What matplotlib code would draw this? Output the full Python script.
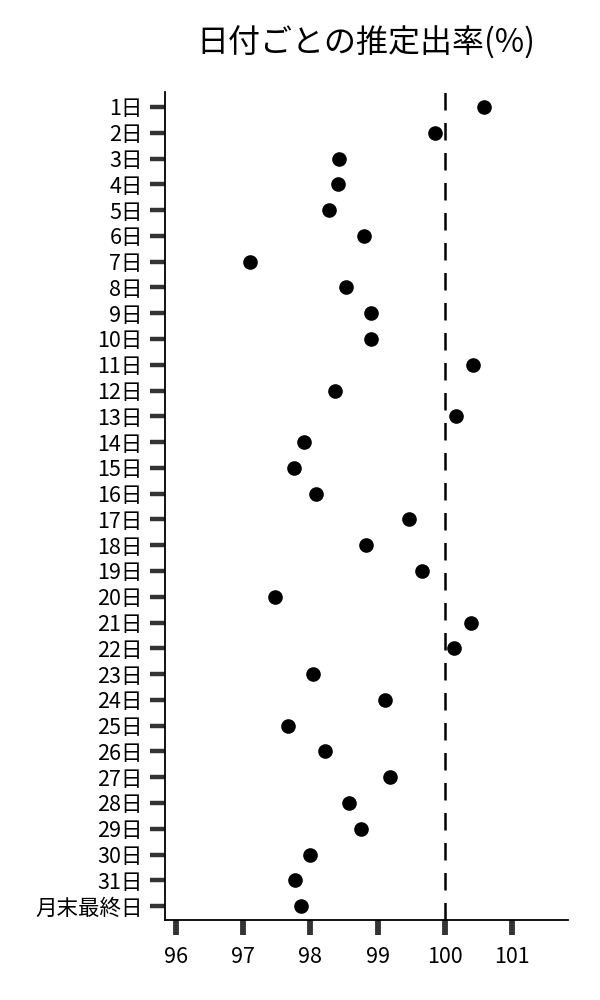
import numpy as np
import matplotlib.pyplot as plt

plt.rcParams['font.family'] = ['Noto Sans CJK JP', 'DejaVu Sans']

# 日付ラベルと推定出率
days = [f'{i}日' for i in range(1, 32)] + ['月末最終日']
rates = [100.58, 99.85, 98.42, 98.41, 98.28, 98.80, 97.10, 98.53, 98.90, 98.90,
         100.41, 98.36, 100.16, 97.90, 97.75, 98.09, 99.47, 98.83, 99.66, 97.47,
         100.38, 100.13, 98.04, 99.11, 97.66, 98.22, 99.18, 98.58, 98.75, 97.99,
         97.77, 97.86]
x_ticks = [96, 97, 98, 99, 100, 101]
ref_line = 100

fig = plt.figure(figsize=(6, 10), dpi=100)
ax = fig.add_axes([0.275, 0.08, 0.672, 0.828])

y = np.arange(len(days))
ax.plot(rates, y, 'o', color='black', markersize=9.5, zorder=3)
ax.axvline(ref_line, color='black', linestyle=(0, (7, 5)), linewidth=1.8, zorder=2)

ax.set_yticks(y)
ax.set_yticklabels(days, fontsize=15.5)
ax.set_xticks(x_ticks)
ax.set_xticklabels([str(t) for t in x_ticks], fontsize=15.5)
ax.set_ylim(31.54, -0.58)
ax.set_xlim(95.84, 101.83)

for s in ['top', 'right']:
    ax.spines[s].set_visible(False)
for s in ['left', 'bottom']:
    ax.spines[s].set_linewidth(1.3)
ax.tick_params(axis='y', length=11, width=3.2, color='#333333', pad=5)
ax.tick_params(axis='x', length=11, width=4.2, color='#333333', pad=8)

fig.text(0.61, 0.957, '日付ごとの推定出率(%)', fontsize=23, ha='center', va='center')

fig.savefig('out.png', dpi=100)
